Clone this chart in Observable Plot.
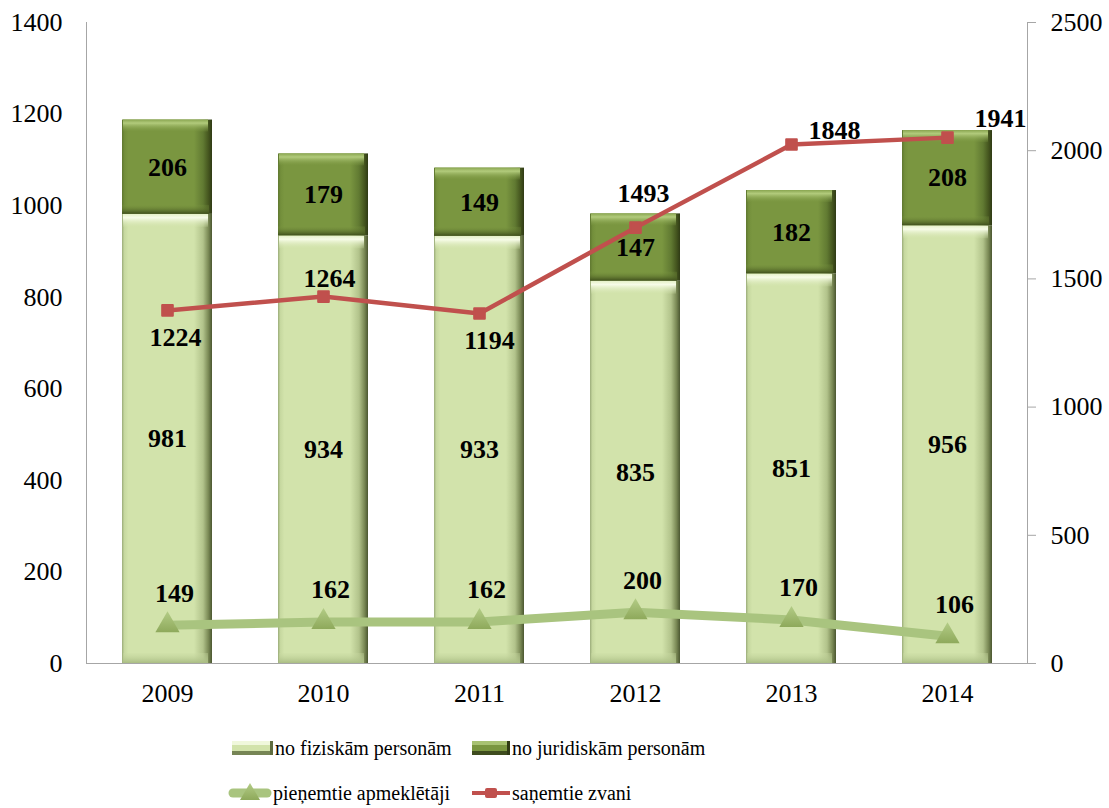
<!DOCTYPE html>
<html><head><meta charset="utf-8">
<script src="https://cdn.jsdelivr.net/npm/d3@7"></script>
<script src="https://cdn.jsdelivr.net/npm/@observablehq/plot@0.6"></script>
<style>
body{margin:0;background:#fff;font-family:"Liberation Serif","Times New Roman",Times,serif;}
#wrap{position:relative;width:1109px;height:808px;overflow:hidden;}
#legend{position:relative;width:1109px;height:93px;}
.li{position:absolute;display:flex;align-items:center;font-size:20px;white-space:nowrap;height:26px;color:#000;font-family:"Liberation Serif","Times New Roman",Times,serif;}
.li svg{display:block;}
</style></head><body><div id="wrap"><div id="chart"></div><div id="legend"></div></div>
<script>
// ---- data ----
const years = ["2009", "2010", "2011", "2012", "2013", "2014"];
const fiz = [981, 934, 933, 835, 851, 956];          // no fiziskām personām
const jur = [206, 179, 149, 147, 182, 208];          // no juridiskām personām
const visitors = [149, 162, 162, 200, 170, 106];     // pieņemtie apmeklētāji (right axis)
const callsPlotted = [1377, 1431, 1365, 1700, 2024, 2051]; // saņemtie zvani, as drawn (right axis)
const callsLabels = [1224, 1264, 1194, 1493, 1848, 1941];  // saņemtie zvani, as labelled
const leftTicks = [0, 200, 400, 600, 800, 1000, 1200, 1400];
const rightTicks = [0, 500, 1000, 1500, 2000, 2500];
const seriesNames = ["no fiziskām personām", "no juridiskām personām", "pieņemtie apmeklētāji", "saņemtie zvani"];

// ---- layout (label offsets in px) ----
const callLabelOffsets = [[8, 27], [6, -18], [10, 27], [8, -34], [43, -14], [53, -19]];

const R = 1400 / 2500; // right-axis units -> left-axis units
const rows = years.map((year, i) => ({
  year, fiz: fiz[i], jur: jur[i], top: fiz[i] + jur[i],
  vis: visitors[i] * R, visLabel: visitors[i],
  calls: callsPlotted[i] * R, callLabel: callsLabels[i]
}));

const FONT = '"Liberation Serif","Times New Roman",Times,serif';
const AX = "#a6a6a6";
const lbl = {fontSize: 26, fontWeight: "bold", fill: "black", fontFamily: FONT};

const marks = [
  Plot.frame({anchor: "left", stroke: AX}),
  Plot.frame({anchor: "right", stroke: AX}),
  Plot.axisY({ticks: leftTicks, anchor: "left", tickSize: 0, tickPadding: 24, fontSize: 26, fill: "black",
    fontFamily: FONT, tickFormat: d => String(d)}),
  Plot.axisY({ticks: rightTicks.map(v => v * R), anchor: "right", tickSize: 8, tickPadding: 15, fontSize: 26,
    stroke: AX, fill: "black", fontFamily: FONT, tickFormat: d => String(Math.round(d / R))}),
  Plot.axisX({tickSize: 0, tickPadding: 20, fontSize: 26, fill: "black", fontFamily: FONT}),
  // light bars
  Plot.barY(rows, {x: "year", y1: 0, y2: "fiz", fill: "url(#fizBody)", ariaLabel: "fizbody"}),
  Plot.barY(rows, {x: "year", y1: "fiz", y2: "fiz", insetBottom: -13, insetRight: 4, insetLeft: 1, fill: "url(#fizTop)"}),
  Plot.barY(rows, {x: "year", y1: 0, y2: 0, insetTop: -10, insetRight: 4, insetLeft: 1, fill: "url(#fizBot)"}),
  // dark bars
  Plot.barY(rows, {x: "year", y1: "fiz", y2: "top", fill: "url(#jurBody)", ariaLabel: "jurbody"}),
  Plot.barY(rows, {x: "year", y1: "top", y2: "top", insetBottom: -12, insetRight: 4, insetLeft: 1, fill: "url(#jurTop)"}),
  Plot.barY(rows, {x: "year", y1: "fiz", y2: "fiz", insetTop: -9, insetRight: 3, fill: "url(#jurBot)"}),
  Plot.ruleY([0], {stroke: AX, insetRight: -8}),
  // visitors line
  Plot.line(rows, {x: "year", y: "vis", stroke: "#a9c47f", strokeWidth: 9, strokeLinejoin: "round"}),
  Plot.dot(rows, {x: "year", y: "vis", symbol: "triangle", r: 9, fill: "url(#triGrad)", stroke: "none", ariaLabel: "tri"}),
  // calls line
  Plot.line(rows, {x: "year", y: "calls", stroke: "#c0504d", strokeWidth: 4.5}),
  Plot.dot(rows, {x: "year", y: "calls", symbol: "square", r: 6, fill: "#c0504d", stroke: "#c0504d", strokeWidth: 2, strokeLinejoin: "round"}),
  // labels
  Plot.text(rows, {x: "year", y: d => d.fiz / 2, text: d => String(d.fiz), ...lbl}),
  Plot.text(rows, {x: "year", y: d => d.fiz + d.jur / 2, text: d => String(d.jur), ...lbl}),
  Plot.text(rows, {x: "year", y: "vis", text: d => String(d.visLabel), dx: 7, dy: -32, ...lbl}),
  ...rows.map((r, i) => Plot.text([r], {x: "year", y: "calls", text: d => String(d.callLabel),
    dx: callLabelOffsets[i][0], dy: callLabelOffsets[i][1], ...lbl}))
];

const svg = Plot.plot({
  width: 1109, height: 715,
  marginLeft: 86, marginRight: 82, marginTop: 22, marginBottom: 52,
  x: {domain: years, paddingInner: 0.426, paddingOuter: 0.213, label: null},
  y: {domain: [0, 1400], label: null},
  style: {fontFamily: FONT, background: "white", overflow: "visible", color: "black"},
  marks
});

const defs = `
<filter id="sh" x="-20%" y="-20%" width="140%" height="140%"><feDropShadow dx="2.5" dy="2" stdDeviation="2" flood-color="#000" flood-opacity="0.35"/></filter>
<filter id="sh2" x="-40%" y="-40%" width="180%" height="200%"><feDropShadow dx="0" dy="3" stdDeviation="2" flood-color="#3d4a22" flood-opacity="0.45"/></filter>
<linearGradient id="fizBody" x1="0" x2="1" y1="0" y2="0">
 <stop offset="0" stop-color="#9aab79"/><stop offset="0.025" stop-color="#c6d89f"/>
 <stop offset="0.07" stop-color="#d2e3ab"/><stop offset="0.8" stop-color="#d2e3ab"/>
 <stop offset="0.9" stop-color="#b2c38b"/><stop offset="0.96" stop-color="#7a8955"/>
 <stop offset="1" stop-color="#4b5731"/></linearGradient>
<linearGradient id="fizTop" x1="0" x2="0" y1="0" y2="1">
 <stop offset="0" stop-color="#e4f0c6"/><stop offset="0.3" stop-color="#f7fce8"/>
 <stop offset="1" stop-color="#d2e3ab" stop-opacity="0.2"/></linearGradient>
<linearGradient id="fizBot" x1="0" x2="0" y1="0" y2="1">
 <stop offset="0" stop-color="#cadba3" stop-opacity="0.3"/><stop offset="1" stop-color="#aabd84"/></linearGradient>
<linearGradient id="jurBody" x1="0" x2="1" y1="0" y2="0">
 <stop offset="0" stop-color="#5f7730"/><stop offset="0.03" stop-color="#738f3b"/>
 <stop offset="0.07" stop-color="#7a9640"/><stop offset="0.8" stop-color="#7a9640"/>
 <stop offset="0.9" stop-color="#617a32"/><stop offset="0.96" stop-color="#45561f"/>
 <stop offset="1" stop-color="#2f3a15"/></linearGradient>
<linearGradient id="jurTop" x1="0" x2="0" y1="0" y2="1">
 <stop offset="0" stop-color="#8aa651"/><stop offset="0.3" stop-color="#b2cb7c"/>
 <stop offset="1" stop-color="#7a9640" stop-opacity="0.2"/></linearGradient>
<linearGradient id="jurBot" x1="0" x2="0" y1="0" y2="1">
 <stop offset="0" stop-color="#7a9640" stop-opacity="0.2"/><stop offset="1" stop-color="#3f4f1c"/></linearGradient>
<linearGradient id="triGrad" x1="0" x2="0" y1="0" y2="1">
 <stop offset="0" stop-color="#b3cc86"/><stop offset="1" stop-color="#8ea95b"/></linearGradient>`;
d3.select(svg).insert("defs", ":first-child").html(defs);
d3.select(svg).selectAll('g[aria-label="fizbody"], g[aria-label="jurbody"]').attr("filter", "url(#sh)");
d3.select(svg).selectAll('g[aria-label="tri"]').attr("filter", "url(#sh2)");
document.getElementById("chart").appendChild(svg);

// ---- legend ----
const legendTop = 715;
const items = [
  {left: 232, cy: 748, w: 41, kind: "fiz", name: seriesNames[0]},
  {left: 472, cy: 748, w: 38, kind: "jur", name: seriesNames[1]},
  {left: 228, cy: 793, w: 44, kind: "vis", name: seriesNames[2]},
  {left: 472, cy: 793, w: 38, kind: "calls", name: seriesNames[3]}
];
const lg = document.getElementById("legend");
for (const it of items) {
  const div = document.createElement("div");
  div.className = "li";
  div.style.left = it.left + "px";
  div.style.top = (it.cy - legendTop - 13) + "px";
  let sw = "";
  const w = it.w, h = 26;
  if (it.kind === "fiz" || it.kind === "jur") {
    const body = it.kind === "fiz" ? "#d2e3ab" : "#7a9640";
    const top = it.kind === "fiz" ? "#f0f8dc" : "#a8c272";
    const dark = it.kind === "fiz" ? "#5f6d40" : "#2f3a15";
    sw = `<svg width="${w + 2}" height="${h}"><rect x="0" y="6" width="${w}" height="14" fill="${body}"/>
      <rect x="0" y="6" width="${w}" height="4" fill="${top}"/>
      <rect x="0" y="16" width="${w}" height="4" fill="${dark}" opacity="0.8"/>
      <rect x="${w - 3}" y="6" width="3" height="14" fill="${dark}"/></svg>`;
  } else if (it.kind === "vis") {
    sw = `<svg width="${w + 1}" height="${h}"><line x1="5" x2="${w - 5}" y1="13" y2="13" stroke="#a9c47f" stroke-width="9" stroke-linecap="round"/>
      <path d="M${w / 2},3 L${w / 2 + 10},20 L${w / 2 - 10},20 Z" fill="url(#triGradL)"/>
      <defs><linearGradient id="triGradL" x1="0" x2="0" y1="0" y2="1"><stop offset="0" stop-color="#b3cc86"/><stop offset="1" stop-color="#8ea95b"/></linearGradient></defs></svg>`;
  } else {
    sw = `<svg width="${w + 2}" height="${h}"><line x1="0" x2="${w}" y1="13" y2="13" stroke="#c0504d" stroke-width="4"/>
      <rect x="${w / 2 - 6}" y="8" width="12" height="10" rx="2" fill="#c0504d"/></svg>`;
  }
  div.innerHTML = sw + `<span>${it.name}</span>`;
  lg.appendChild(div);
}
</script></body></html>
